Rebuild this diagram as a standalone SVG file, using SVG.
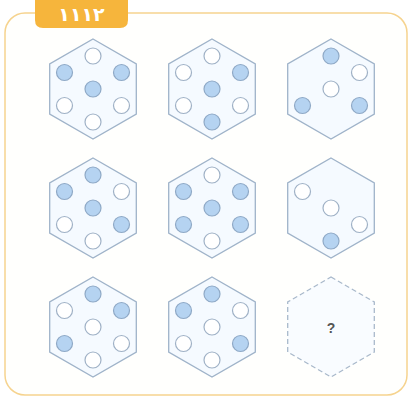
<svg xmlns="http://www.w3.org/2000/svg" width="413" height="398" viewBox="0 0 413 398">
<defs>
<style>
.frame{fill:#fffffd;stroke:#f6d38e;stroke-width:1.5}
.tab{fill:#f6b53c}
.tabtext{font-family:"DejaVu Sans","Noto Sans",sans-serif;font-weight:bold;font-size:19px;fill:#ffffff}
.hex{fill:#f5faff;stroke:#9fb3c9;stroke-width:1.3}
.hexd{fill:#f9fcff;stroke:#a9b9cb;stroke-width:1.3;stroke-dasharray:5 3}
.on{fill:#b5d3f1;stroke:#8fa9c6;stroke-width:1.2}
.off{fill:#ffffff;stroke:#9fb1c6;stroke-width:1.2}
.q{font-family:"Liberation Sans",Arial,sans-serif;font-weight:bold;font-size:14px;fill:#555555}
</style>
<polygon id="hx" points="0,-50 43.3,-25 43.3,25 0,50 -43.3,25 -43.3,-25"/>
</defs>
<rect class="frame" x="5" y="13" width="402" height="382" rx="20"/>
<g id="label">
<path class="tab" d="M35,0 H128 V20 Q128,28 120,28 H43 Q35,28 35,20 Z"/>
<text class="tabtext" x="81.5" y="21" text-anchor="middle">۱۱۱۲</text>
</g>
<g id="connectors"></g>
<g id="r1c1" transform="translate(93,89)">
<use href="#hx" class="hex"/>
<circle class="off" cx="0" cy="-33" r="8"/>
<circle class="on" cx="-28.5" cy="-16.5" r="8"/>
<circle class="on" cx="28.5" cy="-16.5" r="8"/>
<circle class="on" cx="0" cy="0" r="8"/>
<circle class="off" cx="-28.5" cy="16.5" r="8"/>
<circle class="off" cx="28.5" cy="16.5" r="8"/>
<circle class="off" cx="0" cy="33" r="8"/>
</g>
<g id="r1c2" transform="translate(212,89)">
<use href="#hx" class="hex"/>
<circle class="off" cx="0" cy="-33" r="8"/>
<circle class="off" cx="-28.5" cy="-16.5" r="8"/>
<circle class="on" cx="28.5" cy="-16.5" r="8"/>
<circle class="on" cx="0" cy="0" r="8"/>
<circle class="off" cx="-28.5" cy="16.5" r="8"/>
<circle class="off" cx="28.5" cy="16.5" r="8"/>
<circle class="on" cx="0" cy="33" r="8"/>
</g>
<g id="r1c3" transform="translate(331,89)">
<use href="#hx" class="hex"/>
<circle class="on" cx="0" cy="-33" r="8"/>
<circle class="off" cx="28.5" cy="-16.5" r="8"/>
<circle class="off" cx="0" cy="0" r="8"/>
<circle class="on" cx="-28.5" cy="16.5" r="8"/>
<circle class="on" cx="28.5" cy="16.5" r="8"/>
</g>
<g id="r2c1" transform="translate(93,208)">
<use href="#hx" class="hex"/>
<circle class="on" cx="0" cy="-33" r="8"/>
<circle class="on" cx="-28.5" cy="-16.5" r="8"/>
<circle class="off" cx="28.5" cy="-16.5" r="8"/>
<circle class="on" cx="0" cy="0" r="8"/>
<circle class="off" cx="-28.5" cy="16.5" r="8"/>
<circle class="on" cx="28.5" cy="16.5" r="8"/>
<circle class="off" cx="0" cy="33" r="8"/>
</g>
<g id="r2c2" transform="translate(212,208)">
<use href="#hx" class="hex"/>
<circle class="off" cx="0" cy="-33" r="8"/>
<circle class="on" cx="-28.5" cy="-16.5" r="8"/>
<circle class="on" cx="28.5" cy="-16.5" r="8"/>
<circle class="on" cx="0" cy="0" r="8"/>
<circle class="on" cx="-28.5" cy="16.5" r="8"/>
<circle class="on" cx="28.5" cy="16.5" r="8"/>
<circle class="off" cx="0" cy="33" r="8"/>
</g>
<g id="r2c3" transform="translate(331,208)">
<use href="#hx" class="hex"/>
<circle class="off" cx="-28.5" cy="-16.5" r="8"/>
<circle class="off" cx="0" cy="0" r="8"/>
<circle class="off" cx="28.5" cy="16.5" r="8"/>
<circle class="on" cx="0" cy="33" r="8"/>
</g>
<g id="r3c1" transform="translate(93,327)">
<use href="#hx" class="hex"/>
<circle class="on" cx="0" cy="-33" r="8"/>
<circle class="off" cx="-28.5" cy="-16.5" r="8"/>
<circle class="on" cx="28.5" cy="-16.5" r="8"/>
<circle class="off" cx="0" cy="0" r="8"/>
<circle class="on" cx="-28.5" cy="16.5" r="8"/>
<circle class="off" cx="28.5" cy="16.5" r="8"/>
<circle class="off" cx="0" cy="33" r="8"/>
</g>
<g id="r3c2" transform="translate(212,327)">
<use href="#hx" class="hex"/>
<circle class="on" cx="0" cy="-33" r="8"/>
<circle class="on" cx="-28.5" cy="-16.5" r="8"/>
<circle class="off" cx="28.5" cy="-16.5" r="8"/>
<circle class="off" cx="0" cy="0" r="8"/>
<circle class="off" cx="-28.5" cy="16.5" r="8"/>
<circle class="on" cx="28.5" cy="16.5" r="8"/>
<circle class="off" cx="0" cy="33" r="8"/>
</g>
<g id="r3c3" transform="translate(331,327)">
<use href="#hx" class="hexd"/>
<text class="q" x="0" y="6" text-anchor="middle">?</text>
</g>
</svg>
